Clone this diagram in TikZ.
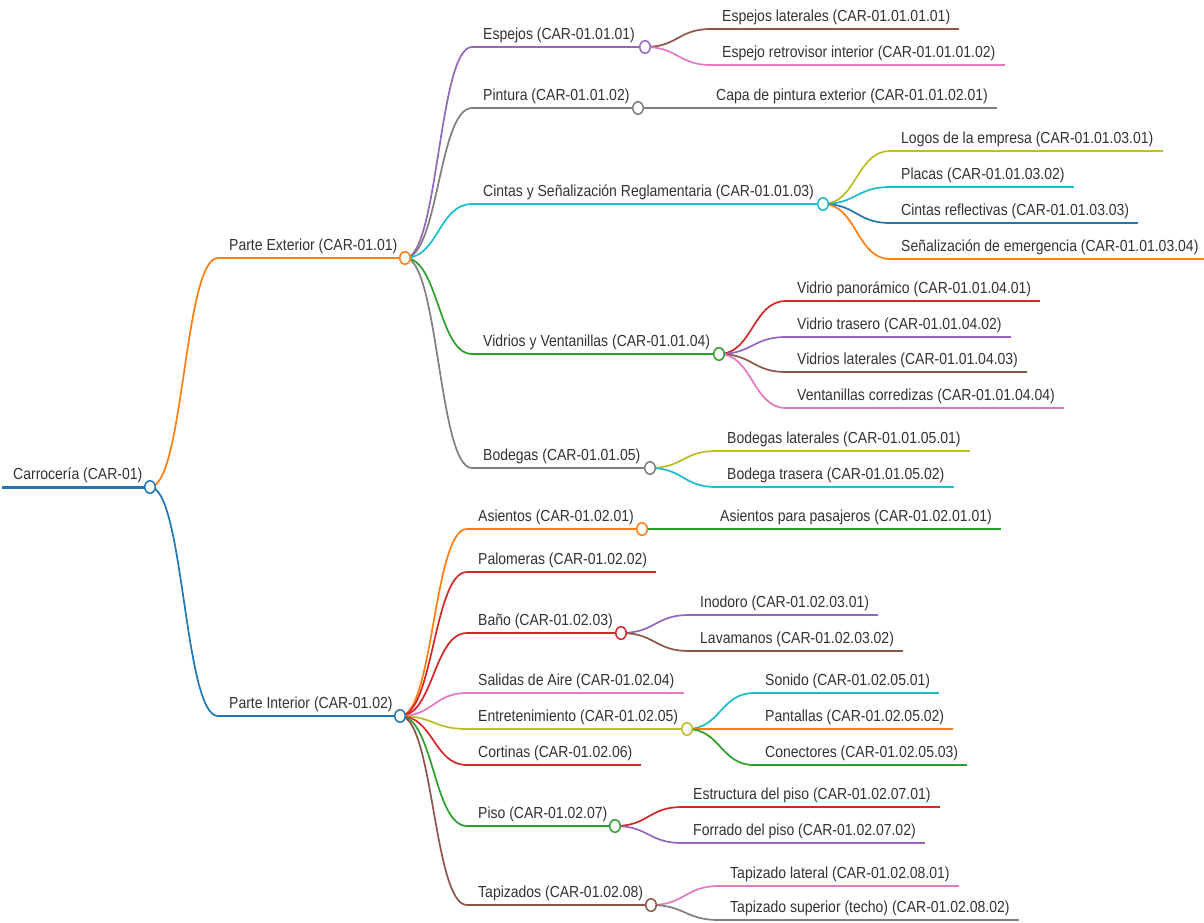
\documentclass[tikz,border=0pt]{standalone}
\usepackage{fontspec}
\setmainfont[FakeStretch=0.875]{Liberation Sans}
\usetikzlibrary{calc,shapes.geometric}

% d3 category palette
\definecolor{cblue}{HTML}{1F77B4}
\definecolor{corange}{HTML}{FF7F0E}
\definecolor{cgreen}{HTML}{2CA02C}
\definecolor{cred}{HTML}{D62728}
\definecolor{cpurple}{HTML}{9467BD}
\definecolor{cbrown}{HTML}{8C564B}
\definecolor{cpink}{HTML}{E377C2}
\definecolor{cgray}{HTML}{7F7F7F}
\definecolor{colive}{HTML}{BCBD22}
\definecolor{ccyan}{HTML}{17BECF}
\definecolor{txt}{HTML}{333333}

\tikzset{
  lbl/.style={anchor=base west, inner sep=0pt, text=txt, font=\fontsize{16}{19}\selectfont},
  branch/.style={line width=2pt},
  curve/.style={line width=1.7pt},
  knob/.style={ellipse, draw, fill=white, line width=1.5pt, minimum width=10.5pt, minimum height=12.5pt, inner sep=0pt},
}

% a node that has children: underline ends at its knob
\newcommand\mmparent[6]{%
  \coordinate (#1-s) at (#3,#5);
  \coordinate (#1-e) at (#4,#5);
  \node[lbl] (#1) at (#3+11,#5-7.5) {#6};
  \draw[branch,#2] (#1-s) -- (#1-e);
}
% a leaf: underline runs just past its text
\newcommand\mmleaf[5]{%
  \coordinate (#1-s) at (#3,#4);
  \node[lbl] (#1) at (#3+11,#4-7.5) {#5};
  \coordinate (#1-t) at ([xshift=9pt]#1.east);
  \coordinate (#1-e) at (#1-t |- #1-s);
  \draw[branch,#2] (#1-s) -- (#1-e);
}
% horizontal S-curve from a parent's knob to a child's underline
\newcommand\mmlink[3]{%
  \draw[curve,#1] let \p1=(#2), \p2=(#3) in
    (\p1) .. controls ({0.5*\x1+0.5*\x2},\y1) and ({0.5*\x1+0.5*\x2},\y2) .. (\p2);
}
\newcommand\mmknob[2]{\node[knob,draw=#2] (#1-c) at (#1-e) {};}

\begin{document}
\begin{tikzpicture}[x=1pt,y=-1pt]
\fill[white] (0,0) rectangle (1204,922);
\useasboundingbox (0,0) rectangle (1204,922);

% ---- underlines and labels ----
\mmparent{root}{cblue,line width=3pt}{2}{150}{487}{Carrocería (CAR-01)}
\mmparent{ext}{corange}{218}{405}{258}{Parte Exterior (CAR-01.01)}
\mmparent{int}{cblue}{218}{400}{716}{Parte Interior (CAR-01.02)}

\mmparent{esp}{cpurple}{472}{645}{47}{Espejos (CAR-01.01.01)}
\mmparent{pin}{cgray}{472}{638}{108}{Pintura (CAR-01.01.02)}
\mmparent{cin}{ccyan}{472}{823}{204}{Cintas y Señalización Reglamentaria (CAR-01.01.03)}
\mmparent{vid}{cgreen}{472}{719}{354}{Vidrios y Ventanillas (CAR-01.01.04)}
\mmparent{bod}{cgray}{472}{650}{468}{Bodegas (CAR-01.01.05)}

\mmparent{asi}{corange}{467}{642}{529}{Asientos (CAR-01.02.01)}
\mmleaf{pal}{cred}{467}{572}{Palomeras (CAR-01.02.02)}
\mmparent{ban}{cred}{467}{621}{633}{Baño (CAR-01.02.03)}
\mmleaf{sal}{cpink}{467}{693}{Salidas de Aire (CAR-01.02.04)}
\mmparent{ent}{colive}{467}{687}{729}{Entretenimiento (CAR-01.02.05)}
\mmleaf{cor}{cred}{467}{765}{Cortinas (CAR-01.02.06)}
\mmparent{pis}{cgreen}{467}{615}{826}{Piso (CAR-01.02.07)}
\mmparent{tap}{cbrown}{467}{651}{905}{Tapizados (CAR-01.02.08)}

\mmleaf{esp1}{cbrown}{711}{29}{Espejos laterales (CAR-01.01.01.01)}
\mmleaf{esp2}{cpink}{711}{65}{Espejo retrovisor interior (CAR-01.01.01.02)}
\mmleaf{pin1}{cgray}{705}{108}{Capa de pintura exterior (CAR-01.01.02.01)}
\mmleaf{cin1}{colive}{890}{151}{Logos de la empresa (CAR-01.01.03.01)}
\mmleaf{cin2}{ccyan}{890}{187}{Placas (CAR-01.01.03.02)}
\mmleaf{cin3}{cblue}{890}{223}{Cintas reflectivas (CAR-01.01.03.03)}
\mmleaf{cin4}{corange}{890}{259}{Señalización de emergencia (CAR-01.01.03.04)}
\mmleaf{vid1}{cred}{786}{301}{Vidrio panorámico (CAR-01.01.04.01)}
\mmleaf{vid2}{cpurple}{786}{337}{Vidrio trasero (CAR-01.01.04.02)}
\mmleaf{vid3}{cbrown}{786}{372}{Vidrios laterales (CAR-01.01.04.03)}
\mmleaf{vid4}{cpink}{786}{408}{Ventanillas corredizas (CAR-01.01.04.04)}
\mmleaf{bod1}{colive}{716}{451}{Bodegas laterales (CAR-01.01.05.01)}
\mmleaf{bod2}{ccyan}{716}{487}{Bodega trasera (CAR-01.01.05.02)}

\mmleaf{asi1}{cgreen}{709}{529}{Asientos para pasajeros (CAR-01.02.01.01)}
\mmleaf{ban1}{cpurple}{689}{615}{Inodoro (CAR-01.02.03.01)}
\mmleaf{ban2}{cbrown}{689}{651}{Lavamanos (CAR-01.02.03.02)}
\mmleaf{ent1}{ccyan}{754}{693}{Sonido (CAR-01.02.05.01)}
\mmleaf{ent2}{corange}{754}{729}{Pantallas (CAR-01.02.05.02)}
\mmleaf{ent3}{cgreen}{754}{765}{Conectores (CAR-01.02.05.03)}
\mmleaf{pis1}{cred}{682}{807}{Estructura del piso (CAR-01.02.07.01)}
\mmleaf{pis2}{cpurple}{682}{843}{Forrado del piso (CAR-01.02.07.02)}
\mmleaf{tap1}{cpink}{719}{886}{Tapizado lateral (CAR-01.02.08.01)}
\mmleaf{tap2}{cgray}{719}{920}{Tapizado superior (techo) (CAR-01.02.08.02)}

% ---- links ----
\mmlink{corange}{root-e}{ext-s}
\mmlink{cblue}{root-e}{int-s}

\mmlink{cpurple}{ext-e}{esp-s}
\mmlink{cgray}{ext-e}{pin-s}
\mmlink{ccyan}{ext-e}{cin-s}
\mmlink{cgreen}{ext-e}{vid-s}
\mmlink{cgray}{ext-e}{bod-s}

\mmlink{corange}{int-e}{asi-s}
\mmlink{cred}{int-e}{pal-s}
\mmlink{cred}{int-e}{ban-s}
\mmlink{cpink}{int-e}{sal-s}
\mmlink{colive}{int-e}{ent-s}
\mmlink{cred}{int-e}{cor-s}
\mmlink{cgreen}{int-e}{pis-s}
\mmlink{cbrown}{int-e}{tap-s}

\mmlink{cbrown}{esp-e}{esp1-s}
\mmlink{cpink}{esp-e}{esp2-s}
\mmlink{cgray}{pin-e}{pin1-s}
\mmlink{colive}{cin-e}{cin1-s}
\mmlink{ccyan}{cin-e}{cin2-s}
\mmlink{cblue}{cin-e}{cin3-s}
\mmlink{corange}{cin-e}{cin4-s}
\mmlink{cred}{vid-e}{vid1-s}
\mmlink{cpurple}{vid-e}{vid2-s}
\mmlink{cbrown}{vid-e}{vid3-s}
\mmlink{cpink}{vid-e}{vid4-s}
\mmlink{colive}{bod-e}{bod1-s}
\mmlink{ccyan}{bod-e}{bod2-s}

\mmlink{cgreen}{asi-e}{asi1-s}
\mmlink{cpurple}{ban-e}{ban1-s}
\mmlink{cbrown}{ban-e}{ban2-s}
\mmlink{ccyan}{ent-e}{ent1-s}
\mmlink{corange}{ent-e}{ent2-s}
\mmlink{cgreen}{ent-e}{ent3-s}
\mmlink{cred}{pis-e}{pis1-s}
\mmlink{cpurple}{pis-e}{pis2-s}
\mmlink{cpink}{tap-e}{tap1-s}
\mmlink{cgray}{tap-e}{tap2-s}

% ---- knobs on top ----
\mmknob{root}{cblue}
\mmknob{ext}{corange}
\mmknob{int}{cblue}
\mmknob{esp}{cpurple}
\mmknob{pin}{cgray}
\mmknob{cin}{ccyan}
\mmknob{vid}{cgreen}
\mmknob{bod}{cgray}
\mmknob{asi}{corange}
\mmknob{ban}{cred}
\mmknob{ent}{colive}
\mmknob{pis}{cgreen}
\mmknob{tap}{cbrown}
\end{tikzpicture}
\end{document}
